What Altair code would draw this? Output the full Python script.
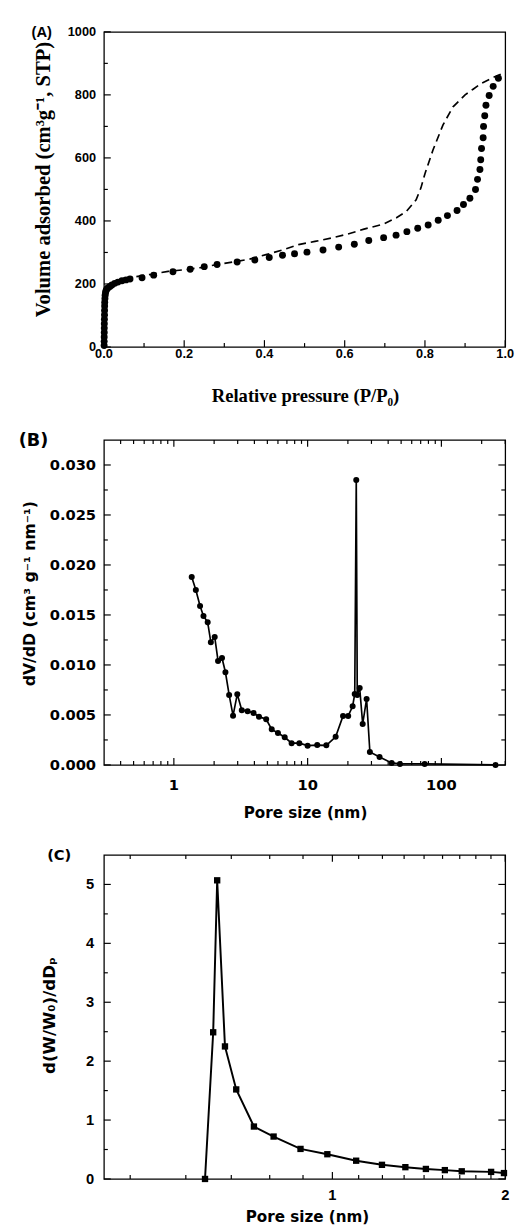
import altair as alt
import pandas as pd

# ---------------- data ----------------
# (A) N2 isotherm
ads_p = [0.0005, 0.0006, 0.0007, 0.0008, 0.0009, 0.001, 0.0012, 0.0014, 0.0016, 0.0018,
         0.002, 0.0025, 0.003, 0.004, 0.005, 0.007, 0.01, 0.015, 0.02, 0.027, 0.035,
         0.045, 0.055, 0.065, 0.095, 0.124, 0.172, 0.215, 0.250, 0.282, 0.332, 0.376,
         0.412, 0.445, 0.475, 0.506, 0.546, 0.585, 0.624, 0.660, 0.697, 0.728, 0.755,
         0.782, 0.808, 0.833, 0.856, 0.880, 0.896, 0.912, 0.926, 0.931, 0.937, 0.939,
         0.941, 0.945, 0.946, 0.949, 0.952, 0.960, 0.970, 0.983]
ads_v = [5, 18, 32, 46, 60, 74, 88, 102, 116, 130, 142, 154, 164, 172, 178, 183, 187,
         192, 197, 202, 206, 210, 213, 216, 220, 228, 239, 247, 255, 262, 270, 276,
         284, 291, 296, 301, 308, 317, 326, 338, 347, 355, 366, 377, 387, 402, 417,
         433, 452, 472, 500, 532, 563, 594, 630, 664, 700, 734, 767, 798, 827, 853]
des_p = [0.998, 0.97, 0.94, 0.92, 0.90, 0.87, 0.845, 0.82, 0.80, 0.79, 0.778, 0.754,
         0.729, 0.697, 0.648, 0.607, 0.567, 0.526, 0.485, 0.453, 0.404, 0.363, 0.323,
         0.28, 0.241, 0.20, 0.16, 0.12, 0.079, 0.05]
des_v = [871, 855, 836, 818, 800, 762, 705, 625, 550, 505, 467, 431, 410, 390, 374,
         358, 346, 335, 325, 311, 293, 279, 270, 261, 252, 245, 240, 231, 223, 214]

# (B) BJH pore size distribution
b_size = [1.36, 1.46, 1.57, 1.665, 1.79, 1.89, 2.02, 2.14, 2.29, 2.43, 2.59, 2.77, 2.98,
          3.22, 3.56, 3.94, 4.33, 4.90, 5.39, 6.0, 6.74, 7.59, 8.67, 10.0, 11.8, 13.8,
          16.2, 18.4, 20.1, 21.7, 22.5, 23.1, 23.5, 24.5, 25.8, 27.6, 29.2, 34.5, 42.5,
          49.0, 75.0, 254.0]
b_dvdd = [0.0188, 0.0175, 0.0159, 0.0149, 0.01426, 0.01227, 0.0128, 0.0104, 0.0107,
          0.00927, 0.0070, 0.00493, 0.00708, 0.00548, 0.00538, 0.00519, 0.00483,
          0.00457, 0.00356, 0.0032, 0.00277, 0.00218, 0.00218, 0.00193, 0.00199,
          0.00196, 0.00281, 0.0049, 0.0049, 0.00587, 0.0071, 0.0285, 0.0070, 0.0077,
          0.0041, 0.0066, 0.0013, 0.0008, 0.0002, 0.0001, 0.0001, 0.0]

# (C) micropore distribution
c_size = [0.60, 0.62, 0.63, 0.65, 0.68, 0.73, 0.79, 0.88, 0.98, 1.10, 1.22, 1.34,
          1.455, 1.57, 1.68, 1.89, 1.99]
c_val = [0.0, 2.49, 5.07, 2.25, 1.52, 0.89, 0.72, 0.51, 0.42, 0.31, 0.24, 0.20, 0.17,
         0.15, 0.13, 0.12, 0.10]

# axis ticks and their labels
a_x_major = [0.0, 0.2, 0.4, 0.6, 0.8, 1.0]
a_x_labels = ["0.0", "0.2", "0.4", "0.6", "0.8", "1.0"]
a_x_minor = [0.1, 0.3, 0.5, 0.7, 0.9]
a_y_major = [0, 200, 400, 600, 800, 1000]
a_y_labels = ["0", "200", "400", "600", "800", "1000"]
a_y_minor = [100, 300, 500, 700, 900]
b_x_major = [1, 10, 100]
b_x_labels = ["1", "10", "100"]
b_x_minor = [0.4, 0.5, 0.6, 0.7, 0.8, 0.9, 2, 3, 4, 5, 6, 7, 8, 9,
             20, 30, 40, 50, 60, 70, 80, 90, 200, 300]
b_y_major = [0.0, 0.005, 0.010, 0.015, 0.020, 0.025, 0.030]
b_y_labels = ["0.000", "0.005", "0.010", "0.015", "0.020", "0.025", "0.030"]
b_y_minor = [0.0025, 0.0075, 0.0125, 0.0175, 0.0225, 0.0275]
c_x_major = [1, 2]
c_x_labels = ["1", "2"]
c_x_minor = [k / 9 for k in (4, 5, 6, 7, 8, 10, 11, 12, 13, 14, 15, 16, 17)]
c_y_major = [0, 1, 2, 3, 4, 5]
c_y_labels = ["0", "1", "2", "3", "4", "5"]
c_y_minor = [0.5, 1.5, 2.5, 3.5, 4.5]

panel_labels = ["(A)", "(B)", "(C)"]
titles_a = ["Relative pressure (P/P\u2080)", "Volume adsorbed (cm\u00b3g\u207b\u00b9, STP)"]
titles_b = ["Pore size (nm)", "dV/dD (cm\u00b3 g\u207b\u00b9 nm\u207b\u00b9)"]
titles_c = ["Pore size (nm)", "d(W/W\u2080)/dD\u209a"]

# ---------------- layout ----------------
W = 410
HA, HB, HC = 322, 332, 331
SANS = "Liberation Sans"
WIDE = "DejaVu Sans"
SERIF = "Liberation Serif"
MAJ, MIN = 7, 4


def xticks(vals, xs, H, size, top):
    """inward x ticks drawn through the x scale (bottom edge, and top edge if asked)"""
    df = pd.DataFrame({"t": vals})
    out = [alt.Chart(df).mark_rule(color="black", strokeWidth=1.2).encode(
        x=alt.X("t:Q", scale=xs, axis=None), y=alt.value(H), y2=alt.value(H - size))]
    if top:
        out.append(alt.Chart(df).mark_rule(color="black", strokeWidth=1.2).encode(
            x=alt.X("t:Q", scale=xs, axis=None), y=alt.value(0), y2=alt.value(size)))
    return out


def yticks(vals, ys, size, right):
    """inward y ticks drawn through the y scale (left edge, and right edge if asked)"""
    df = pd.DataFrame({"t": vals})
    out = [alt.Chart(df).mark_rule(color="black", strokeWidth=1.2).encode(
        y=alt.Y("t:Q", scale=ys, axis=None), x=alt.value(0), x2=alt.value(size))]
    if right:
        out.append(alt.Chart(df).mark_rule(color="black", strokeWidth=1.2).encode(
            y=alt.Y("t:Q", scale=ys, axis=None), x=alt.value(W), x2=alt.value(W - size)))
    return out


def xlabels(vals, labs, xs, ypos, font, size):
    df = pd.DataFrame({"t": vals, "lab": labs})
    return alt.Chart(df).mark_text(align="center", baseline="top", font=font,
                                   fontSize=size, fontWeight="bold", color="black").encode(
        x=alt.X("t:Q", scale=xs, axis=None), y=alt.value(ypos), text="lab:N")


def ylabels(vals, labs, ys, xpos, font, size):
    df = pd.DataFrame({"t": vals, "lab": labs})
    return alt.Chart(df).mark_text(align="right", baseline="middle", font=font,
                                   fontSize=size, fontWeight="bold", color="black").encode(
        y=alt.Y("t:Q", scale=ys, axis=None), x=alt.value(xpos), text="lab:N")


def text_layer(text, font, size, dx, dy, align="left", baseline="middle", angle=0):
    kw = dict(align=align, baseline=baseline, font=font, fontSize=size,
              fontWeight="bold", color="black")
    if angle:
        kw["angle"] = angle
    return alt.Chart(pd.DataFrame({"lab": [text]})).mark_text(**kw).encode(
        text="lab:N", x=alt.value(dx), y=alt.value(dy))


# ----- panel A -----
dfa = pd.DataFrame({"p": ads_p, "v": ads_v})
dfd = pd.DataFrame({"p": des_p, "v": des_v})
xa = alt.Scale(domain=[0, 1], nice=False, zero=False)
ya = alt.Scale(domain=[0, 1000], nice=False, zero=False)
a_pts = alt.Chart(dfa).mark_circle(size=50, color="black", opacity=1).encode(
    x=alt.X("p:Q", scale=xa, axis=None), y=alt.Y("v:Q", scale=ya, axis=None))
a_line = alt.Chart(dfd).mark_line(color="black", strokeWidth=1.7,
                                  strokeDash=[8, 5]).encode(
    x=alt.X("p:Q", scale=xa, axis=None), y=alt.Y("v:Q", scale=ya, axis=None))
panelA = alt.layer(
    a_pts, a_line,
    *xticks(a_x_major, xa, HA, MAJ, False), *xticks(a_x_minor, xa, HA, MIN, False),
    *yticks(a_y_major, ya, MAJ, False), *yticks(a_y_minor, ya, MIN, False),
    xlabels(a_x_major, a_x_labels, xa, HA + 1, SANS, 13),
    ylabels(a_y_major, a_y_labels, ya, -8, SANS, 13),
    text_layer(titles_a[0], SERIF, 19, 206, HA + 41, align="center", baseline="top"),
    text_layer(titles_a[1], SERIF, 21, -61, 151, align="center", angle=270),
    text_layer(panel_labels[0], SANS, 15, -74, 0),
).properties(width=W, height=HA)

# ----- panel B -----
dfb = pd.DataFrame({"d": b_size, "v": b_dvdd})
xb = alt.Scale(type="log", domain=[0.3, 300], nice=False)
yb = alt.Scale(domain=[0, 0.0325], nice=False, zero=False)
b_line = alt.Chart(dfb).mark_line(color="black", strokeWidth=1.7).encode(
    x=alt.X("d:Q", scale=xb, axis=None), y=alt.Y("v:Q", scale=yb, axis=None))
b_pts = alt.Chart(dfb).mark_circle(size=38, color="black", opacity=1).encode(
    x=alt.X("d:Q", scale=xb, axis=None), y=alt.Y("v:Q", scale=yb, axis=None))
panelB = alt.layer(
    b_line, b_pts,
    *xticks(b_x_major, xb, HB, MAJ, True), *xticks(b_x_minor, xb, HB, MIN, True),
    *yticks(b_y_major, yb, MAJ, True), *yticks(b_y_minor, yb, MIN, True),
    xlabels(b_x_major, b_x_labels, xb, HB + 14, WIDE, 15),
    ylabels(b_y_major, b_y_labels, yb, -8, WIDE, 15),
    text_layer(titles_b[0], WIDE, 15.5, 206, HB + 42, align="center", baseline="top"),
    text_layer(titles_b[1], WIDE, 16, -75, 157, align="center", angle=270),
    text_layer(panel_labels[1], WIDE, 18, -87, 1),
).properties(width=W, height=HB)

# ----- panel C -----
dfc = pd.DataFrame({"d": c_size, "v": c_val})
xc = alt.Scale(type="log", domain=[0.4, 2], nice=False)
yc = alt.Scale(domain=[0, 5.5], nice=False, zero=False)
c_line = alt.Chart(dfc).mark_line(color="black", strokeWidth=2).encode(
    x=alt.X("d:Q", scale=xc, axis=None), y=alt.Y("v:Q", scale=yc, axis=None))
c_pts = alt.Chart(dfc).mark_square(size=42, color="black", opacity=1).encode(
    x=alt.X("d:Q", scale=xc, axis=None), y=alt.Y("v:Q", scale=yc, axis=None))
panelC = alt.layer(
    c_line, c_pts,
    *xticks(c_x_major, xc, HC, MAJ, True), *xticks(c_x_minor, xc, HC, MIN, True),
    *yticks(c_y_major, yc, MAJ, True), *yticks(c_y_minor, yc, MIN, True),
    xlabels(c_x_major, c_x_labels, xc, HC + 10, SANS, 15),
    ylabels(c_y_major, c_y_labels, yc, -10, SANS, 15),
    text_layer(titles_c[0], WIDE, 15.5, 208, HC + 32, align="center", baseline="top"),
    text_layer(titles_c[1], WIDE, 17, -55, 164, align="center", angle=270),
    text_layer(panel_labels[2], WIDE, 15, -58, 0.5),
).properties(width=W, height=HC)

chart = alt.vconcat(panelA, panelB, panelC, spacing=25).properties(
    padding={"left": 10, "top": 3, "right": 0, "bottom": 0},
    background="white",
).configure_view(stroke="black", strokeWidth=1.3)

chart.save("out.html", embed_options={"renderer": "svg", "actions": False})
